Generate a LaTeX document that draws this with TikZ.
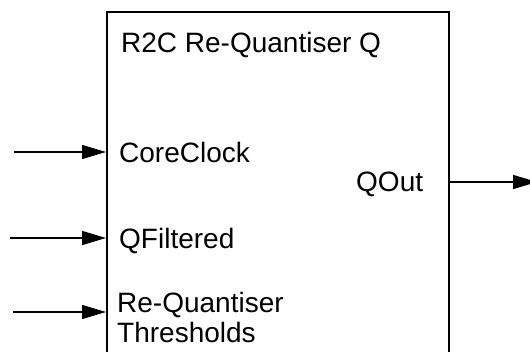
\documentclass[tikz,border=0pt]{standalone}
\usepackage{fontspec}
\setmainfont{Liberation Sans}
\usetikzlibrary{arrows.meta}
\begin{document}
\begin{tikzpicture}[x=1pt,y=-1pt,
  lbl/.style={anchor=base west,inner sep=0pt,font=\fontsize{28}{30}\selectfont,align=left},
  sig/.style={line width=1.4pt,-{Triangle[length=24pt,width=14pt]}},
  blockbox/.style={draw,line width=2.2pt,minimum width=342pt,minimum height=360pt,anchor=north west,inner sep=0pt}]
\clip (0,0) rectangle (530,352);
\fill[white] (0,0) rectangle (530,352);
\node[blockbox] (block) at (106,11) {};
\node[lbl] (title) at (121,53) {R2C Re-Quantiser Q};
\node[lbl] (clk) at (119,163) {CoreClock};
\node[lbl] (qf) at (119,249) {QFiltered};
\node[lbl] (thr) at (117,343) {Re-Quantiser\\Thresholds};
\node[lbl] (qout) at (356,192) {QOut};
\coordinate (inclk) at (14,152);
\coordinate (inqf) at (10,238);
\coordinate (inthr) at (13,312);
\coordinate (outq) at (537,182);
\draw[sig] (inclk) -- (inclk -| block.west);
\draw[sig] (inqf) -- (inqf -| block.west);
\draw[sig] (inthr) -- (inthr -| block.west);
\draw[sig] (outq -| block.east) -- (outq);
\end{tikzpicture}
\end{document}
